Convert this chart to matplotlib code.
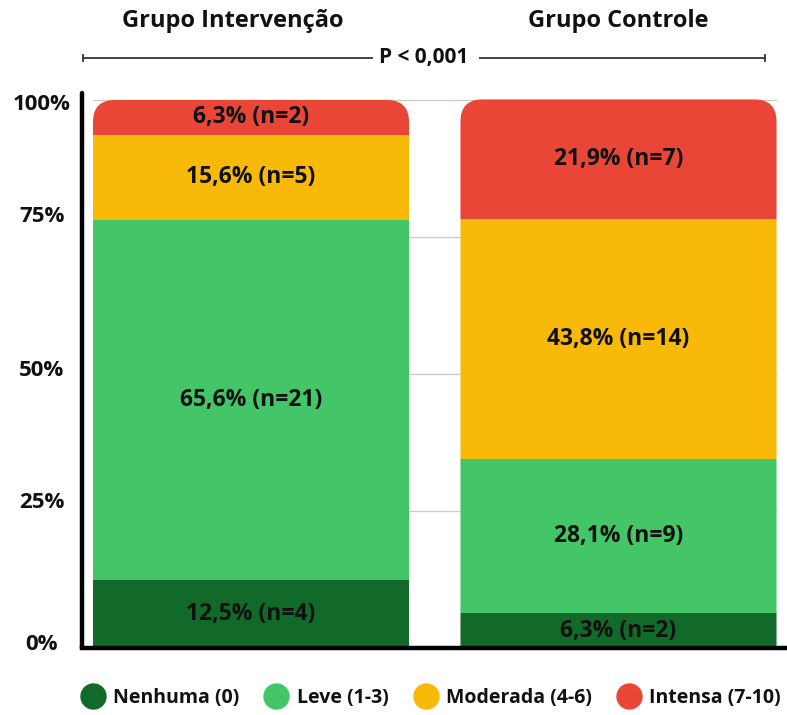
import matplotlib
matplotlib.use("Agg")
import matplotlib.pyplot as plt
from matplotlib.patches import FancyBboxPatch
from matplotlib.lines import Line2D
import matplotlib.transforms as mtransforms
import numpy as np

plt.rcParams['font.family'] = ['Open Sans', 'DejaVu Sans']
plt.rcParams['font.weight'] = 'bold'

# ---- data ----
groups = ['Grupo Intervenção', 'Grupo Controle']
categories = ['Nenhuma (0)', 'Leve (1-3)', 'Moderada (4-6)', 'Intensa (7-10)']
nenhuma_pct = [12.5, 6.3]
leve_pct = [65.6, 28.1]
moderada_pct = [15.6, 43.8]
intensa_pct = [6.3, 21.9]
nenhuma_n = [4, 2]
leve_n = [21, 9]
moderada_n = [5, 14]
intensa_n = [2, 7]
yticks = [0, 25, 50, 75, 100]
ytick_labels = ['0%', '25%', '50%', '75%', '100%']
p_text = 'P < 0,001'

colors = ['#116a29', '#44c567', '#f8b909', '#e94637']
series_pct = [nenhuma_pct, leve_pct, moderada_pct, intensa_pct]
series_n = [nenhuma_n, leve_n, moderada_n, intensa_n]

W, H = 787, 715
fig = plt.figure(figsize=(W / 100, H / 100), dpi=100)

def fx(px):
    return px / W

def fy(py):
    return 1 - py / H

ax_left, ax_right, ax_top, ax_bot = 82, 787, 93, 648
ax = fig.add_axes([fx(ax_left), fy(ax_bot), fx(ax_right) - fx(ax_left), fy(ax_top) - fy(ax_bot)])

x = np.arange(len(groups))
bar_w = 0.86
px_per_x = 367.5
px_per_y = 5.48
ax.set_xlim(-(251 - ax_left) / px_per_x, 1 + (ax_right - 618.5) / px_per_x)
ax.set_ylim(0, (ax_bot - ax_top) / px_per_y)

# gridlines
ax.hlines(yticks[1:], x[0] - bar_w / 2, x[-1] + bar_w / 2, color='#cccccc', lw=1.0, zorder=0)

bottoms = np.zeros(len(groups))
bar_sets = []
for vals, ns, col in zip(series_pct, series_n, colors):
    vals = np.array(vals)
    bars = ax.bar(x, vals, bar_w, bottom=bottoms, color=col, edgecolor='none', zorder=2)
    bar_sets.append(bars)
    for xi, v, n, b in zip(x, vals, ns, bottoms):
        lbl = f"{v:.1f}".replace('.', ',') + f"% (n={n})"
        ax.text(xi, b + v / 2, lbl, ha='center', va='center', fontsize=16.5,
                fontweight='bold', color='#111111', zorder=3)
    bottoms = bottoms + vals

# rounded top corners via clip paths
r_px = 22
aspect = (1 / px_per_y) / (1 / px_per_x)
for i, xi in enumerate(x):
    top = bottoms[i]
    clip = FancyBboxPatch((xi - bar_w / 2, -40), bar_w, top + 40,
                          boxstyle=f"round,pad=0,rounding_size={r_px / px_per_x}",
                          mutation_aspect=aspect, transform=ax.transData)
    for bars in bar_sets:
        bars[i].set_clip_path(clip)

# axes styling
for s in ['top', 'right']:
    ax.spines[s].set_visible(False)
ax.spines['left'].set_linewidth(3.2)
ax.spines['bottom'].set_linewidth(3.2)
ax.spines['left'].set_capstyle('round')
ax.set_xticks([])
ax.set_yticks(yticks)
ax.set_yticklabels([])
ax.tick_params(axis='y', length=0)

# y tick labels (positioned as in the reference)
label_dy = [4, 8, 4, 20, -4]
trans = mtransforms.blended_transform_factory(fig.transFigure, ax.transData)
for v, t, dy in zip(yticks, ytick_labels, label_dy):
    ax.annotate(t, xy=(fx(42), v), xycoords=trans, xytext=(0, dy * 0.72),
                textcoords='offset points', ha='center', va='center',
                fontsize=16, fontweight='bold', color='#111111', annotation_clip=False)

# group titles
for cx, g in zip([233, 618], groups):
    fig.text(fx(cx), fy(21), g, ha='center', va='center', fontsize=17, fontweight='bold', color='#111111')

# p-value bracket
line_y = fy(58)
col_p = '#333333'
fig.add_artist(Line2D([fx(83), fx(372)], [line_y, line_y], color=col_p, lw=1.3))
fig.add_artist(Line2D([fx(480), fx(765)], [line_y, line_y], color=col_p, lw=1.3))
for ex in [83, 765]:
    fig.add_artist(Line2D([fx(ex), fx(ex)], [line_y - 3 / H, line_y + 3 / H], color=col_p, lw=1.3))
fig.text(fx(424), fy(57), p_text, ha='center', va='center', fontsize=15, fontweight='bold', color='#111111')

# legend
handles = [Line2D([], [], marker='o', linestyle='none', markersize=19, markerfacecolor=c,
                  markeredgecolor='none') for c in colors]
leg = fig.legend(handles, categories, loc='center', bbox_to_anchor=(fx(432), fy(698)), ncol=4,
                 frameon=False, fontsize=14, handletextpad=0.55, columnspacing=1.4,
                 handlelength=1.0, borderaxespad=0)
for t in leg.get_texts():
    t.set_fontweight('bold')
    t.set_color('#111111')

fig.savefig('out.png', dpi=100, facecolor='white')
